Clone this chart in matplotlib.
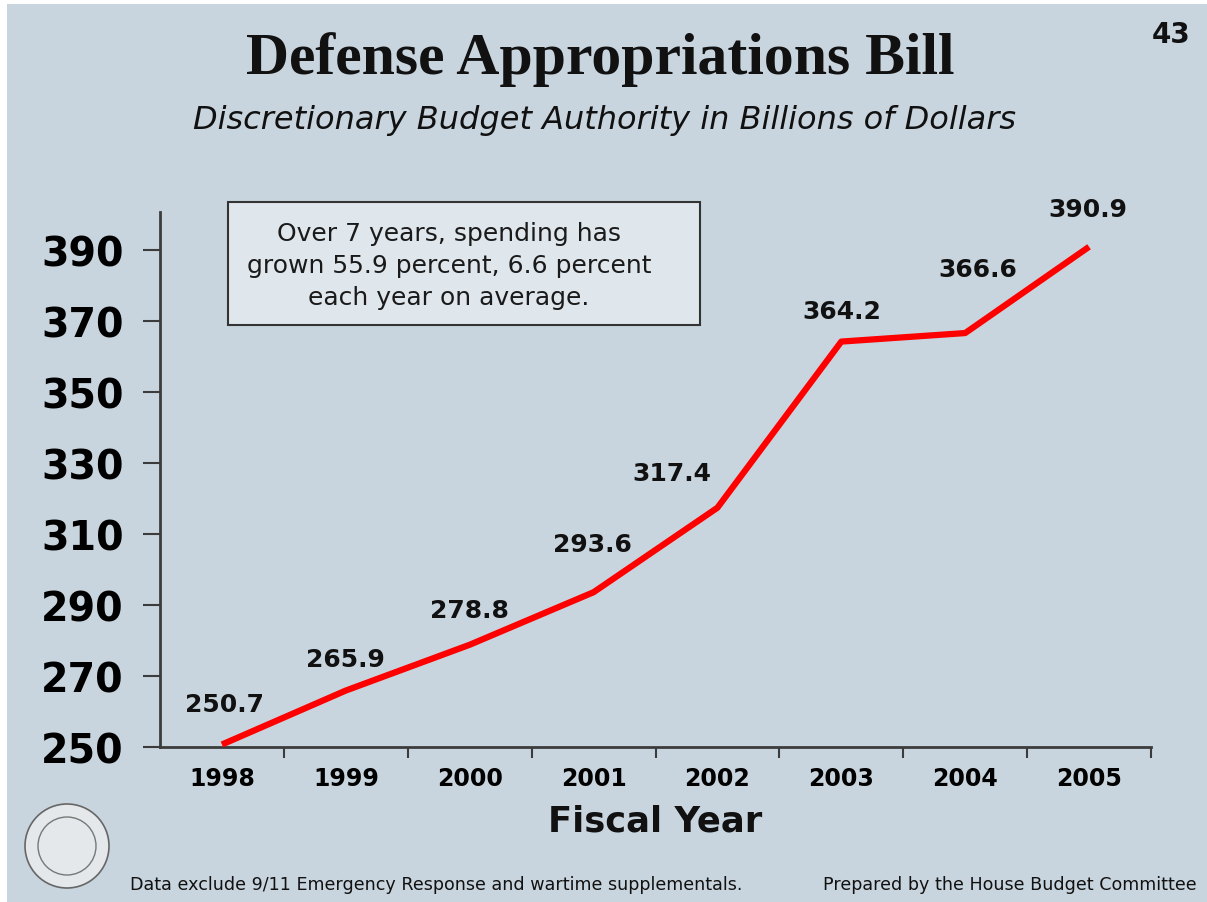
import matplotlib
matplotlib.use("Agg")
import matplotlib.pyplot as plt
from matplotlib.patches import Rectangle, Ellipse

years = ["1998", "1999", "2000", "2001", "2002", "2003", "2004", "2005"]
budget = [250.7, 265.9, 278.8, 293.6, 317.4, 364.2, 366.6, 390.9]
y_ticks = [250, 270, 290, 310, 330, 350, 370, 390]
# label offsets in points (dx, dy) relative to each point
label_offsets = [(2, 29), (0, 23), (0, 25), (-1, 35), (-33, 25), (0, 22), (9, 46), (-1, 27)]

BG = "#c9d5de"
DARK = "#3c3c3c"

W, H = 1207, 903
fig = plt.figure(figsize=(W / 100, H / 100), dpi=100, facecolor="white")
fig.patches.append(Rectangle((7 / W, 0), 1 - 7 / W, 1 - 5 / H, transform=fig.transFigure,
                             facecolor=BG, edgecolor="none", zorder=-10))

ax = fig.add_axes([160 / W, 1 - 748 / H, (1151 - 160) / W, (748 - 213) / H])
ax.set_facecolor("none")

x = list(range(len(years)))
ax.plot(x, budget, color="#ff0000", lw=4.5, solid_capstyle="butt", zorder=3)

for xi, v, (dx, dy) in zip(x, budget, label_offsets):
    ax.annotate(f"{v:.1f}", (xi, v), xytext=(dx, dy), textcoords="offset points",
                ha="center", va="center", fontsize=18, fontweight="bold", color="#111111")

ax.set_xlim(-0.5, len(years) - 0.5)
ax.set_ylim(250, 400.7)

ax.set_yticks(y_ticks)
ax.set_yticklabels([str(t) for t in y_ticks], fontsize=28.5, fontweight="bold")
ax.tick_params(axis="y", direction="out", length=12, width=1.5, color=DARK, pad=14)

ax.set_xticks(x)
ax.set_xticklabels(years, fontsize=17, fontweight="bold")
ax.set_xticks([i + 0.5 for i in x], minor=True)
ax.tick_params(axis="x", which="major", length=0, pad=14)
ax.tick_params(axis="x", which="minor", direction="out", length=8, width=1.5, color=DARK)

for s in ["top", "right"]:
    ax.spines[s].set_visible(False)
for s in ["left", "bottom"]:
    ax.spines[s].set_color(DARK)
    ax.spines[s].set_linewidth(2)

fig.text(655 / W, 1 - 822 / H, "Fiscal Year", ha="center", va="center",
         fontsize=25.5, fontweight="bold", color="#111111")

fig.text(600 / W, 1 - 60 / H, "Defense Appropriations Bill", ha="center", va="center",
         fontsize=43, fontweight="bold", family="Liberation Serif", color="#111111")
fig.text(604 / W, 1 - 120 / H, "Discretionary Budget Authority in Billions of Dollars",
         ha="center", va="center", fontsize=23, style="italic", color="#111111")
fig.text(1171 / W, 1 - 35 / H, "43", ha="center", va="center", fontsize=20,
         fontweight="bold", color="#111111")

# note box
fig.patches.append(Rectangle((228 / W, 1 - 326 / H), (700 - 228) / W, (326 - 203) / H,
                             transform=fig.transFigure, facecolor="#dfe6ec",
                             edgecolor="#333333", lw=1.5, zorder=2))
fig.text(449 / W, 1 - 266 / H,
         "Over 7 years, spending has\ngrown 55.9 percent, 6.6 percent\neach year on average.",
         ha="center", va="center", fontsize=18, linespacing=1.42, color="#1a1a1a", zorder=3)

fig.text(130 / W, 1 - 885 / H,
         "Data exclude 9/11 Emergency Response and wartime supplementals.",
         ha="left", va="center", fontsize=12.6, color="#111111")
fig.text(1197 / W, 1 - 885 / H, "Prepared by the House Budget Committee",
         ha="right", va="center", fontsize=12.6, color="#111111")

# seal
fig.patches.append(Ellipse((67 / W, 1 - 847 / H), 84 / W, 84 / H, transform=fig.transFigure,
                           facecolor="#e4e8eb", edgecolor="#666666", lw=1.2))
fig.patches.append(Ellipse((67 / W, 1 - 847 / H), 58 / W, 58 / H, transform=fig.transFigure,
                           facecolor="none", edgecolor="#777777", lw=1))

fig.savefig("out.png", dpi=100, facecolor=fig.get_facecolor())
